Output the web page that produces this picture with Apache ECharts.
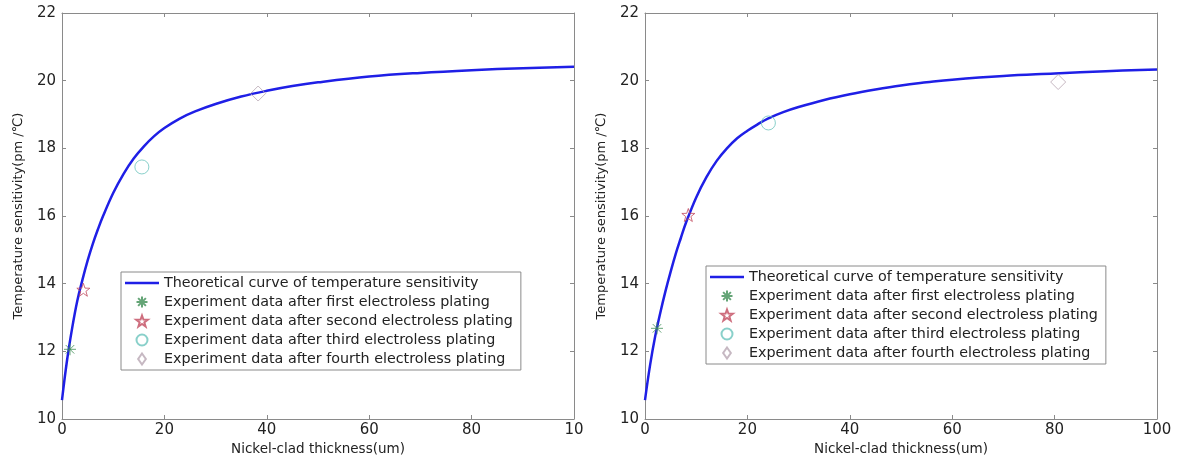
<!DOCTYPE html>
<html>
<head>
<meta charset="utf-8">
<script src="https://cdn.jsdelivr.net/npm/echarts@6/dist/echarts.min.js"></script>
<style>
html,body{margin:0;padding:0;background:#fff;}
#c{width:1197px;height:464px;}
</style>
</head>
<body>
<div id="c"></div>
<script>
// ---- data ----
var seriesNames = [
  'Theoretical curve of temperature sensitivity',
  'Experiment data after first electroless plating',
  'Experiment data after second electroless plating',
  'Experiment data after third electroless plating',
  'Experiment data after fourth electroless plating'
];
var xTicks = [0, 20, 40, 60, 80, 100];
var yTicks = [10, 12, 14, 16, 18, 20, 22];

// left panel theoretical curve
var leftCurveX = [0, 1, 2, 3, 4, 5, 6, 7, 8, 10, 12, 14, 16, 18, 20, 23, 26, 30, 35, 40, 45, 50, 60, 70, 80, 90, 100];
var leftCurveY = [10.56, 11.75, 12.7, 13.5, 14.12, 14.68, 15.17, 15.6, 15.99, 16.68, 17.24, 17.7, 18.06, 18.36, 18.6, 18.88, 19.09, 19.31, 19.53, 19.7, 19.84, 19.95, 20.12, 20.23, 20.31, 20.37, 20.41];
// left panel experiments (first..fourth)
var leftExpX = [1.56, 4.17, 15.6, 38.3];
var leftExpY = [12.06, 13.82, 17.45, 19.62];

// right panel theoretical curve
var rightCurveX = [0, 1, 2, 3, 4, 5, 6, 7, 8, 10, 12, 14, 16, 18, 20, 22, 24, 27, 30, 35, 40, 45, 50, 55, 60, 70, 80, 90, 100];
var rightCurveY = [10.56, 11.6, 12.45, 13.15, 13.78, 14.35, 14.88, 15.35, 15.8, 16.55, 17.15, 17.63, 18.0, 18.3, 18.52, 18.71, 18.88, 19.07, 19.22, 19.43, 19.6, 19.74, 19.86, 19.95, 20.03, 20.14, 20.21, 20.28, 20.33];
// right panel experiments
var rightExpX = [2.34, 8.46, 24.1, 80.7];
var rightExpY = [12.68, 16.03, 18.75, 19.96];

// ---- styling ----
var lineColor = '#1f1fe6';
var expColors = ['#3f8f55', '#c24a5e', '#6cc4bd', '#b8a6b3'];
var expSymbols = [
  'path://M10,0L10,20M0,10L20,10M2.93,2.93L17.07,17.07M2.93,17.07L17.07,2.93',
  'path://M10,0L12.35,6.76L19.51,6.91L13.8,11.24L15.88,18.09L10,14L4.12,18.09L6.2,11.24L0.49,6.91L7.65,6.76Z',
  'circle',
  'path://M10,0L17,10L10,20L3,10Z'
];
var expSizes = [12, 13, 14, 15];
var font = '"DejaVu Sans", Verdana, sans-serif';
var axisCol = '#8a8a8a';

function pairs(xs, ys) { return xs.map(function (x, i) { return [x, ys[i]]; }); }

var grids = [
  { left: 62, right: 1197 - 574, top: 13, bottom: 464 - 419 },
  { left: 645, right: 1197 - 1157, top: 13, bottom: 464 - 419 }
];

var xAxes = [], yAxes = [];
grids.forEach(function (g, gi) {
  [['bottom', true], ['top', false]].forEach(function (p) {
    xAxes.push({
      gridIndex: gi, type: 'value', position: p[0],
      min: xTicks[0], max: xTicks[xTicks.length - 1], interval: xTicks[1] - xTicks[0],
      name: p[1] ? 'Nickel-clad thickness(um)' : '',
      nameLocation: 'middle', nameGap: 22,
      nameTextStyle: { color: '#222', fontSize: 13.5, fontFamily: font },
      axisLine: { show: true, onZero: false, lineStyle: { color: axisCol, width: 1 } },
      axisTick: { show: true, inside: true, length: 4, lineStyle: { color: axisCol } },
      splitLine: { show: false },
      axisLabel: {
        show: p[1], color: '#222', fontSize: 15, fontFamily: font, margin: 4,
        formatter: function (v) { return (gi === 0 && v === 100) ? '10' : String(v); }
      }
    });
  });
  [['left', true], ['right', false]].forEach(function (p) {
    yAxes.push({
      gridIndex: gi, type: 'value', position: p[0],
      min: yTicks[0], max: yTicks[yTicks.length - 1], interval: yTicks[1] - yTicks[0],
      name: p[1] ? 'Temperature sensitivity(pm /\u2103)' : '',
      nameLocation: 'middle', nameGap: 37, nameRotate: 90,
      nameTextStyle: { color: '#222', fontSize: 13, fontFamily: font },
      axisLine: { show: true, onZero: false, lineStyle: { color: axisCol, width: 1 } },
      axisTick: { show: true, inside: true, length: 4, lineStyle: { color: axisCol } },
      splitLine: { show: false },
      axisLabel: { show: p[1], color: '#222', fontSize: 15, fontFamily: font, margin: 6 }
    });
  });
});

var series = [];
var panels = [
  { cx: leftCurveX, cy: leftCurveY, ex: leftExpX, ey: leftExpY },
  { cx: rightCurveX, cy: rightCurveY, ex: rightExpX, ey: rightExpY }
];
panels.forEach(function (pd, gi) {
  series.push({
    name: seriesNames[0], type: 'line', xAxisIndex: gi * 2, yAxisIndex: gi * 2,
    data: pairs(pd.cx, pd.cy), smooth: 0.4,
    symbol: 'none', lineStyle: { color: lineColor, width: 2.5 }, itemStyle: { color: lineColor },
    z: 3
  });
  for (var k = 0; k < 4; k++) {
    series.push({
      name: seriesNames[k + 1], type: 'scatter', xAxisIndex: gi * 2, yAxisIndex: gi * 2,
      data: [[pd.ex[k], pd.ey[k]]],
      symbol: expSymbols[k], symbolSize: expSizes[k],
      itemStyle: { color: k === 0 ? expColors[k] : 'rgba(255,255,255,0)', borderColor: expColors[k], borderWidth: 1 },
      z: 4
    });
  }
});

var legendItems = seriesNames.map(function (n, i) {
  if (i === 0) return { name: n, icon: 'path://M0,0L34,0L34,2.5L0,2.5Z' };
  return { name: n, icon: expSymbols[i - 1] };
});

var legendBase = {
  orient: 'vertical', data: legendItems, symbolKeepAspect: true,
  backgroundColor: '#fff', borderColor: '#8a8a8a', borderWidth: 1,
  padding: [4, 8, 4, 4], itemGap: 5, itemWidth: 34, itemHeight: 11,
  textStyle: { color: '#222', fontSize: 14.3, fontFamily: font },
  selectedMode: false
};
var legends = [
  Object.assign({}, legendBase, { left: 121, top: 272 }),
  Object.assign({}, legendBase, { left: 706, top: 266 })
];

var chart = echarts.init(document.getElementById('c'), null, { renderer: 'canvas' });
chart.setOption({
  animation: false,
  backgroundColor: '#fff',
  grid: grids,
  xAxis: xAxes,
  yAxis: yAxes,
  legend: legends,
  series: series
});
</script>
</body>
</html>
